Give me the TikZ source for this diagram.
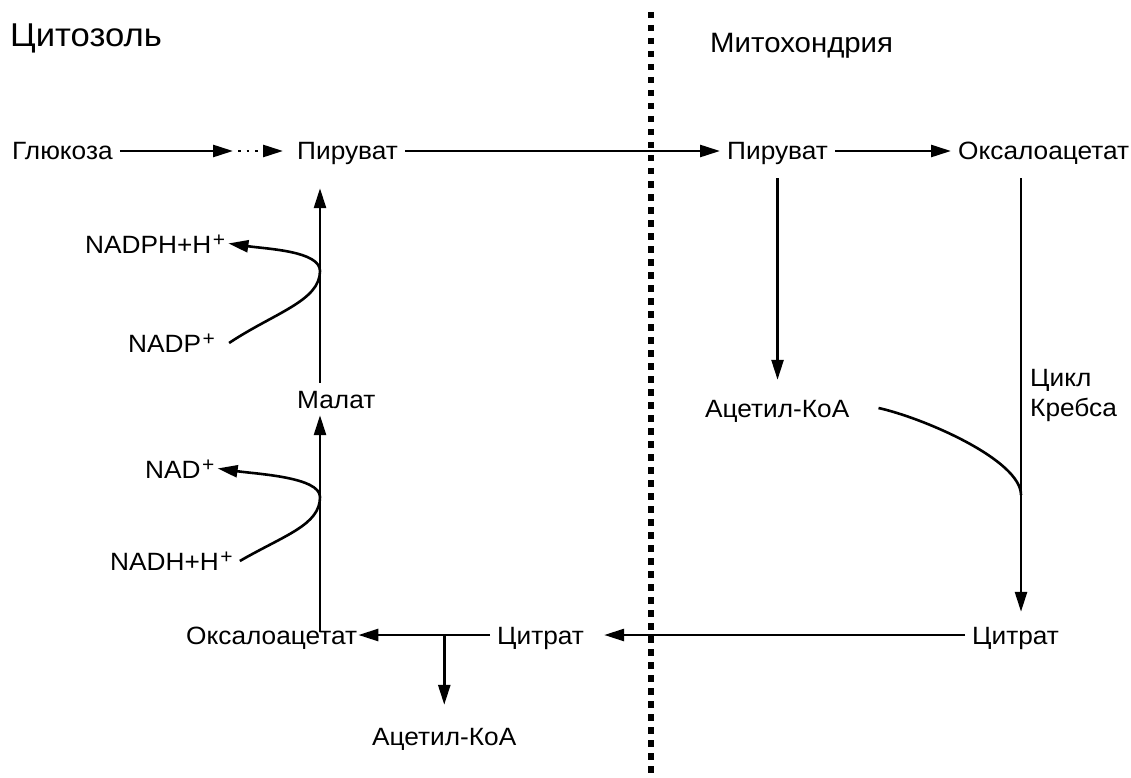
\documentclass[tikz,border=0pt]{standalone}
\usepackage{fontspec}
\setmainfont{Liberation Sans}[FakeStretch=1.05]
\usepackage{tikz}
\usetikzlibrary{arrows.meta,positioning,calc}

% raised charge sign
\newcommand{\plusion}{\kern1.5pt\raisebox{7pt}{\fontsize{20}{20}\selectfont +}}

\begin{document}
\begin{tikzpicture}[x=1pt, y=-1pt,
  text_style/.style={font=\fontsize{25}{30}\selectfont, inner sep=7pt,
    text height=18pt, text depth=0pt, anchor=base west},
  title_style/.style={font=\fontsize{33}{38}\selectfont, inner sep=0pt, anchor=base west},
  arrow_style/.style={draw=black, line width=2.6pt, -{Triangle[length=20pt,width=12pt]}},
  edge_style/.style={draw=black, line width=2.6pt},
  membrane_style/.style={draw=black, line width=6.5pt, dash pattern=on 6.5pt off 6.5pt}]

  \useasboundingbox (0,0) rectangle (1131,778);

  % compartments
  \node (cyto) [title_style] at (10,47) {Цитозоль};
  \node (mito) [title_style, font=\fontsize{28}{32}\selectfont] at (710,53) {Митохондрия};
  \draw [membrane_style] (651,12) -- (651,778);

  % cytosol
  \node (glc)   [text_style] at (5,160)   {Глюкоза};
  \node (pyrL)  [text_style] at (290,160) {Пируват};
  \node (nadph) [text_style] at (78,253)  {NADPH+H\plusion};
  \node (nadp)  [text_style] at (121,352) {NADP\plusion};
  \node (mal)   [text_style] at (290,408) {Малат};
  \node (nad)   [text_style] at (138,478) {NAD\plusion};
  \node (nadh)  [text_style] at (103,570) {NADH+H\plusion};
  \node (oxL)   [text_style] at (179,644) {Оксалоацетат};
  \node (citL)  [text_style] at (490,644) {Цитрат};
  \node (acL)   [text_style] at (365,745) {Ацетил-КоА};

  % mitochondria
  \node (pyrR)  [text_style] at (720,160) {Пируват};
  \node (oxR)   [text_style] at (951,160) {Оксалоацетат};
  \node (acR)   [text_style] at (698,417) {Ацетил-КоА};
  \node (krebs) [text_style, align=left, inner sep=0pt] at (1030,416) {Цикл\\Кребса};
  \node (citR)  [text_style] at (965,644) {Цитрат};

  \coordinate (colL) at (320,0);
  \coordinate (colR) at (1021,0);
  \coordinate (dots) at (233,151);
  \coordinate (redox1) at (320,271);
  \coordinate (redox2) at (320,497);
  \coordinate (merge) at (1021,495);
  %
  \draw [arrow_style] (glc.east) -- (dots);
  \draw [arrow_style, dash pattern=on 2.5pt off 6pt, shorten <=5pt, shorten >=7pt] (dots) -- (pyrL.west);
  \draw [arrow_style] (pyrL.east) -- (pyrR.west);
  \draw [arrow_style] (pyrR.east) -- (oxR.west);
  \draw [arrow_style, shorten <=11pt, shorten >=12pt] (pyrR.south) -- (pyrR.south |- acR.north);
  \draw [arrow_style, shorten <=11pt, shorten >=7pt] (oxR.south -| colR) -- (citR.north -| colR);
  \draw [edge_style] ([xshift=22pt]acR.east) .. controls +(45,10) and +(0,-35) .. (merge);
  \draw [arrow_style, shorten >=13pt] (citR.west) -- (citL.east);
  \draw [arrow_style, shorten >=-6pt] (citL.west) -- (oxL.east);
  \draw [arrow_style, shorten >=15pt] (acL.north |- citL.west) -- (acL.north);
  \draw [arrow_style, shorten <=-13pt] (oxL.north -| colL) -- (mal.south -| colL);
  \draw [arrow_style, shorten >=21pt] (mal.north -| colL) -- (pyrL.south -| colL);
  \draw [arrow_style, shorten >=-4pt] ([xshift=7pt]nadp.east) .. controls +(45,-30) and +(0,30) .. (redox1)
    .. controls +(0,-20) and +(35,5) .. (nadph.east);
  \draw [arrow_style, shorten >=-4pt] (nadh.east) .. controls +(45,-26) and +(0,28) .. (redox2)
    .. controls +(0,-20) and +(35,5) .. (nad.east);
\end{tikzpicture}
\end{document}
